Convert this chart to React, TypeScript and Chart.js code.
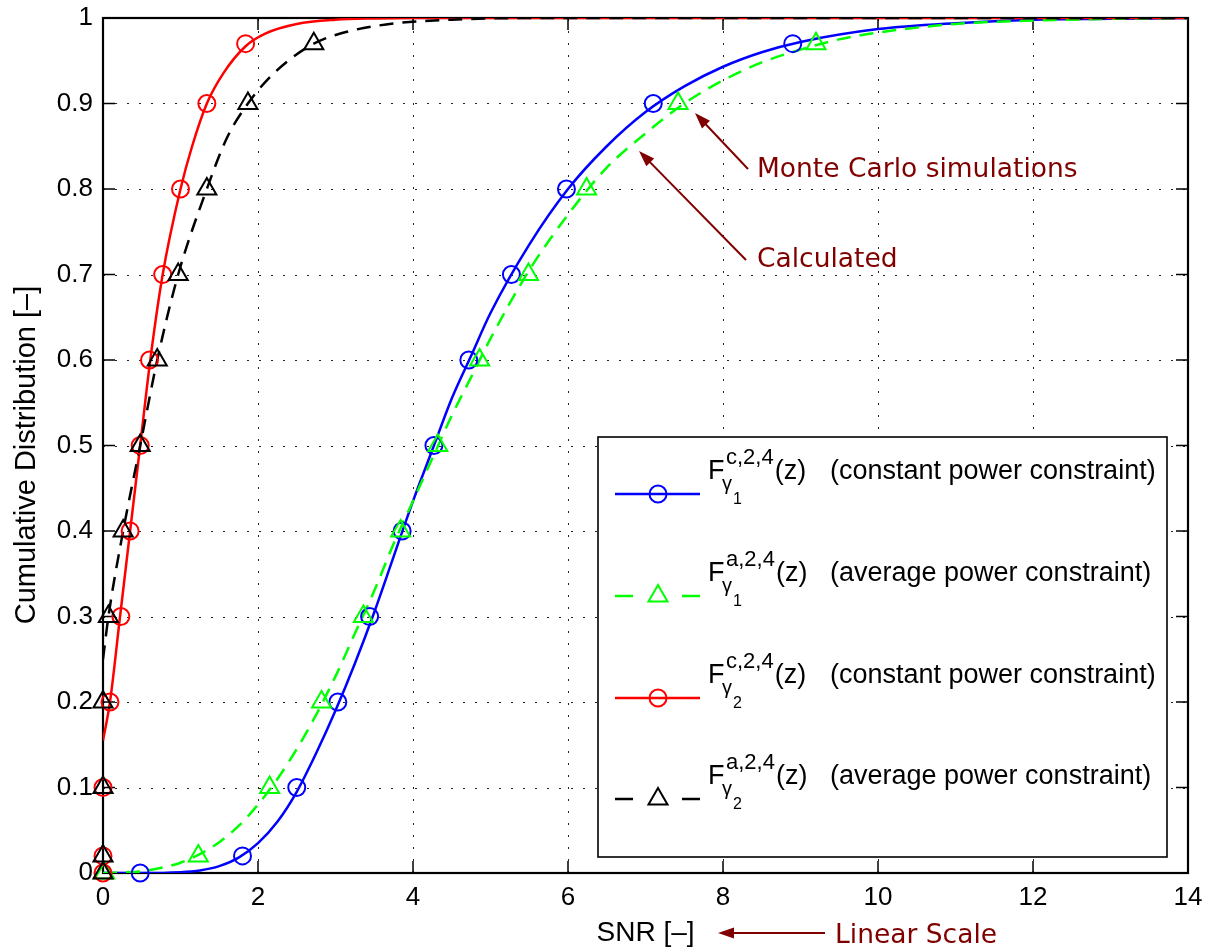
import { useEffect, useRef } from "react";
import { Chart, registerables } from "chart.js";

Chart.register(...registerables);

// ---- axis ticks ----
const xTickValues = [0, 2, 4, 6, 8, 10, 12, 14];
const yTickValues = [0, 0.1, 0.2, 0.3, 0.4, 0.5, 0.6, 0.7, 0.8, 0.9, 1];

// ---- calculated curves ----
const calcC1X = [0, 0.5, 1, 1.25, 1.5, 1.75, 2, 2.25, 2.5, 2.75, 3, 3.25, 3.5, 3.75, 4, 4.25, 4.5, 4.75, 5, 5.5, 6, 6.5, 7, 7.5, 8, 8.5, 9, 10, 11, 12, 13, 14];
const calcC1Y = [0, 0, 0.001, 0.003, 0.008, 0.018, 0.035, 0.06, 0.095, 0.14, 0.19, 0.245, 0.305, 0.37, 0.435, 0.495, 0.555, 0.605, 0.655, 0.735, 0.8, 0.85, 0.89, 0.92, 0.943, 0.96, 0.972, 0.987, 0.994, 0.998, 0.999, 1];

const calcA1X = [0, 0.5, 0.8, 1, 1.25, 1.5, 1.75, 2, 2.25, 2.5, 2.75, 3, 3.25, 3.5, 3.75, 4, 4.25, 4.5, 4.75, 5, 5.5, 6, 6.5, 7, 7.5, 8, 8.5, 9, 9.5, 10, 11, 12, 13, 14];
const calcA1Y = [0, 0.002, 0.007, 0.012, 0.022, 0.036, 0.055, 0.08, 0.11, 0.145, 0.185, 0.23, 0.28, 0.33, 0.385, 0.435, 0.485, 0.535, 0.58, 0.625, 0.705, 0.77, 0.825, 0.865, 0.9, 0.927, 0.948, 0.963, 0.975, 0.983, 0.993, 0.997, 0.999, 1];

const calcC2X = [0, 0.09, 0.22, 0.35, 0.48, 0.61, 0.77, 1.0, 1.15, 1.34, 1.55, 1.84, 2.1, 2.5, 3, 3.5, 4, 14];
const calcC2Y = [0.155, 0.2, 0.3, 0.4, 0.5, 0.6, 0.7, 0.8, 0.85, 0.9, 0.935, 0.967, 0.982, 0.993, 0.998, 0.9995, 1, 1];

const calcA2X = [0, 0.07, 0.26, 0.48, 0.7, 0.97, 1.34, 1.6, 1.87, 2.2, 2.72, 3.2, 3.8, 4.5, 5.5, 14];
const calcA2Y = [0.25, 0.3, 0.4, 0.5, 0.6, 0.7, 0.8, 0.86, 0.9, 0.935, 0.97, 0.985, 0.994, 0.998, 1, 1];

// ---- Monte Carlo simulation markers ----
const simLevels = [0, 0.02, 0.1, 0.2, 0.3, 0.4, 0.5, 0.6, 0.7, 0.8, 0.9, 0.97];
const simC1X = [0.48, 1.8, 2.5, 3.03, 3.44, 3.86, 4.27, 4.72, 5.27, 5.98, 7.1, 8.9];
const simA1X = [0.02, 1.23, 2.15, 2.82, 3.36, 3.84, 4.32, 4.86, 5.49, 6.24, 7.42, 9.2];
const simC2X = [0, 0, 0, 0.09, 0.23, 0.35, 0.48, 0.6, 0.77, 1.0, 1.34, 1.84];
const simA2X = [0, 0, 0, 0, 0.07, 0.26, 0.48, 0.7, 0.97, 1.34, 1.87, 2.72];

// ---- legend ----
const legendSup = ["c,2,4", "a,2,4", "c,2,4", "a,2,4"];
const legendSub = ["1", "1", "2", "2"];
const legendDesc = [
  "(constant power constraint)",
  "(average power constraint)",
  "(constant power constraint)",
  "(average power constraint)",
];
const legendColors = ["#0000ff", "#00ff00", "#ff0000", "#000000"];
const legendDashed = [false, true, false, true];
const legendMarker = ["circle", "triangle", "circle", "triangle"];

// ---- annotations ----
const annoMonte = "Monte Carlo simulations";
const annoCalc = "Calculated";
const annoScale = "Linear Scale";
const xTitle = "SNR [–]";
const yTitle = "Cumulative Distribution [–]";

const FONT = "'Liberation Sans', Arial, Helvetica, sans-serif";
const ANNO_FONT = "'DejaVu Sans', sans-serif";
const ANNO_COLOR = "#800000";

const zip = (xs: number[], ys: number[]) => xs.map((x, i) => ({ x, y: ys[i] }));

function drawArrow(ctx: CanvasRenderingContext2D, x1: number, y1: number, x2: number, y2: number) {
  const ang = Math.atan2(y2 - y1, x2 - x1);
  const len = 16;
  const hw = 5.5;
  ctx.save();
  ctx.strokeStyle = ANNO_COLOR;
  ctx.fillStyle = ANNO_COLOR;
  ctx.lineWidth = 2;
  ctx.beginPath();
  ctx.moveTo(x1, y1);
  ctx.lineTo(x2 - Math.cos(ang) * len * 0.8, y2 - Math.sin(ang) * len * 0.8);
  ctx.stroke();
  ctx.beginPath();
  ctx.moveTo(x2, y2);
  ctx.lineTo(x2 - Math.cos(ang) * len - Math.sin(ang) * hw, y2 - Math.sin(ang) * len + Math.cos(ang) * hw);
  ctx.lineTo(x2 - Math.cos(ang) * len + Math.sin(ang) * hw, y2 - Math.sin(ang) * len - Math.cos(ang) * hw);
  ctx.closePath();
  ctx.fill();
  ctx.restore();
}

function drawMarker(ctx: CanvasRenderingContext2D, kind: string, x: number, y: number, color: string) {
  ctx.save();
  ctx.strokeStyle = color;
  ctx.lineWidth = 2;
  ctx.beginPath();
  if (kind === "circle") {
    ctx.arc(x, y, 8.5, 0, Math.PI * 2);
  } else {
    const r = 11;
    let rad = 0;
    ctx.moveTo(x + Math.sin(rad) * r, y - Math.cos(rad) * r);
    rad += (2 * Math.PI) / 3;
    ctx.lineTo(x + Math.sin(rad) * r, y - Math.cos(rad) * r);
    rad += (2 * Math.PI) / 3;
    ctx.lineTo(x + Math.sin(rad) * r, y - Math.cos(rad) * r);
    ctx.closePath();
  }
  ctx.stroke();
  ctx.restore();
}

const framePlugin = {
  id: "matlabFrame",
  beforeDatasetsDraw(chart: any) {
    const { ctx, chartArea: a, scales } = chart;
    const xs = scales.x;
    const ys = scales.y;
    ctx.save();
    // dotted grid
    ctx.strokeStyle = "#222";
    ctx.lineWidth = 1;
    ctx.setLineDash([2, 10]);
    xTickValues.forEach((v) => {
      if (v === xTickValues[0] || v === xTickValues[xTickValues.length - 1]) return;
      const px = Math.round(xs.getPixelForValue(v)) + 0.5;
      ctx.beginPath();
      ctx.moveTo(px, a.bottom);
      ctx.lineTo(px, a.top);
      ctx.stroke();
    });
    yTickValues.forEach((v) => {
      if (v === yTickValues[0] || v === yTickValues[yTickValues.length - 1]) return;
      const py = Math.round(ys.getPixelForValue(v)) + 0.5;
      ctx.beginPath();
      ctx.moveTo(a.left, py);
      ctx.lineTo(a.right, py);
      ctx.stroke();
    });
    ctx.setLineDash([]);
    // inward ticks
    ctx.strokeStyle = "#000";
    ctx.lineWidth = 1.5;
    const tl = 12;
    xTickValues.forEach((v) => {
      const px = xs.getPixelForValue(v);
      ctx.beginPath();
      ctx.moveTo(px, a.bottom);
      ctx.lineTo(px, a.bottom - tl);
      ctx.moveTo(px, a.top);
      ctx.lineTo(px, a.top + tl);
      ctx.stroke();
    });
    yTickValues.forEach((v) => {
      const py = ys.getPixelForValue(v);
      ctx.beginPath();
      ctx.moveTo(a.left, py);
      ctx.lineTo(a.left + tl, py);
      ctx.moveTo(a.right, py);
      ctx.lineTo(a.right - tl, py);
      ctx.stroke();
    });
    // box
    ctx.lineWidth = 2.2;
    ctx.strokeRect(a.left, a.top, a.right - a.left, a.bottom - a.top);
    ctx.restore();
  },
  afterDraw(chart: any) {
    const { ctx, chartArea: a } = chart;
    ctx.save();
    // legend box
    const lx = 598, ly = 437, lw = 569, lh = 420;
    ctx.fillStyle = "#fff";
    ctx.fillRect(lx, ly, lw, lh);
    ctx.strokeStyle = "#000";
    ctx.lineWidth = 1.6;
    ctx.strokeRect(lx, ly, lw, lh);
    const rowY = [494, 596, 698, 799];
    for (let i = 0; i < 4; i++) {
      const y = rowY[i];
      const c = legendColors[i];
      ctx.strokeStyle = c;
      ctx.lineWidth = 2.5;
      ctx.beginPath();
      if (legendDashed[i]) {
        ctx.moveTo(615, y);
        ctx.lineTo(633, y);
        ctx.moveTo(682, y);
        ctx.lineTo(700, y);
      } else {
        ctx.moveTo(615, y);
        ctx.lineTo(700, y);
      }
      ctx.stroke();
      drawMarker(ctx, legendMarker[i], 658, y, c);
      ctx.fillStyle = "#000";
      ctx.textAlign = "left";
      ctx.textBaseline = "alphabetic";
      ctx.font = `27px ${FONT}`;
      ctx.fillText("F", 708, y - 15);
      ctx.font = `22px ${FONT}`;
      ctx.fillText(legendSup[i], 726, y - 30);
      const supW = ctx.measureText(legendSup[i]).width;
      ctx.font = `20px ${FONT}`;
      ctx.fillText("γ", 722, y - 4);
      ctx.font = `16px ${FONT}`;
      ctx.fillText(legendSub[i], 733, y + 10);
      ctx.font = `27px ${FONT}`;
      ctx.fillText("(z)", 727 + supW, y - 15);
      ctx.fillText(legendDesc[i], 830, y - 15);
    }
    // axis titles
    ctx.fillStyle = "#000";
    ctx.font = `28px ${FONT}`;
    ctx.textAlign = "center";
    ctx.textBaseline = "alphabetic";
    ctx.fillText(xTitle, (a.left + a.right) / 2, 941);
    ctx.save();
    ctx.font = `29px ${FONT}`;
    ctx.translate(35, 455);
    ctx.rotate(-Math.PI / 2);
    ctx.fillText(yTitle, 0, 0);
    ctx.restore();
    // annotations
    ctx.fillStyle = ANNO_COLOR;
    ctx.font = `26.5px ${ANNO_FONT}`;
    ctx.textAlign = "left";
    ctx.fillText(annoMonte, 757, 177);
    ctx.fillText(annoCalc, 757, 267);
    ctx.fillText(annoScale, 835, 943);
    drawArrow(ctx, 748, 169, 695, 113);
    drawArrow(ctx, 746, 260, 639, 151);
    drawArrow(ctx, 825, 933, 718, 933);
    ctx.restore();
  },
};

export default function App() {
  const ref = useRef<HTMLCanvasElement | null>(null);
  useEffect(() => {
    if (!ref.current) return;
    const lineDs = (label: string, xs: number[], ys: number[], color: string, dashed: boolean, order: number) => ({
      label,
      data: zip(xs, ys),
      showLine: true,
      borderColor: color,
      backgroundColor: color,
      borderWidth: 2.5,
      borderDash: dashed ? [14, 9] : [],
      pointRadius: 0,
      cubicInterpolationMode: "monotone" as const,
      order,
    });
    const markDs = (label: string, xs: number[], color: string, style: string, order: number) => ({
      label,
      data: zip(xs, simLevels),
      showLine: false,
      borderColor: color,
      backgroundColor: "rgba(0,0,0,0)",
      pointStyle: style,
      pointRadius: style === "circle" ? 8.5 : 11,
      pointBorderWidth: 2,
      clip: false as const,
      order,
    });
    const chart = new Chart(ref.current, {
      type: "scatter",
      data: {
        datasets: [
          markDs("sim a2", simA2X, "#000000", "triangle", 0),
          markDs("sim c2", simC2X, "#ff0000", "circle", 1),
          markDs("sim a1", simA1X, "#00ff00", "triangle", 2),
          markDs("sim c1", simC1X, "#0000ff", "circle", 3),
          lineDs("calc a2", calcA2X, calcA2Y, "#000000", true, 4),
          lineDs("calc c2", calcC2X, calcC2Y, "#ff0000", false, 5),
          lineDs("calc a1", calcA1X, calcA1Y, "#00ff00", true, 6),
          lineDs("calc c1", calcC1X, calcC1Y, "#0000ff", false, 7),
        ] as any,
      },
      options: {
        animation: false,
        responsive: false,
        devicePixelRatio: 1,
        layout: { padding: { left: 0, right: 21, top: 18, bottom: 0 } },
        plugins: { legend: { display: false }, tooltip: { enabled: false } },
        events: [],
        scales: {
          x: {
            type: "linear",
            min: 0,
            max: 14,
            afterBuildTicks: (scale: any) => {
              scale.ticks = xTickValues.map((v) => ({ value: v }));
            },
            afterFit: (scale: any) => {
              scale.height = 77;
              scale.paddingLeft = 0;
              scale.paddingRight = 0;
            },
            grid: { display: false, drawTicks: false },
            border: { display: false },
            ticks: {
              color: "#000",
              font: { size: 26, family: FONT },
              padding: 9,
              maxRotation: 0,
              callback: (v: any) => String(v),
            },
          },
          y: {
            type: "linear",
            min: 0,
            max: 1,
            afterBuildTicks: (scale: any) => {
              scale.ticks = yTickValues.map((v) => ({ value: v }));
            },
            afterFit: (scale: any) => {
              scale.width = 103;
              scale.paddingTop = 0;
              scale.paddingBottom = 0;
            },
            grid: { display: false, drawTicks: false },
            border: { display: false },
            ticks: {
              color: "#000",
              font: { size: 26, family: FONT },
              padding: 10,
              callback: (v: any) => String(Number(Number(v).toFixed(1))),
            },
          },
        },
      },
      plugins: [framePlugin],
    });
    return () => chart.destroy();
  }, []);
  return (
    <div style={{ position: "absolute", left: 0, top: 0, width: 1209, height: 950, background: "#fff" }}>
      <canvas ref={ref} width={1209} height={950} style={{ width: 1209, height: 950, display: "block" }} />
    </div>
  );
}
